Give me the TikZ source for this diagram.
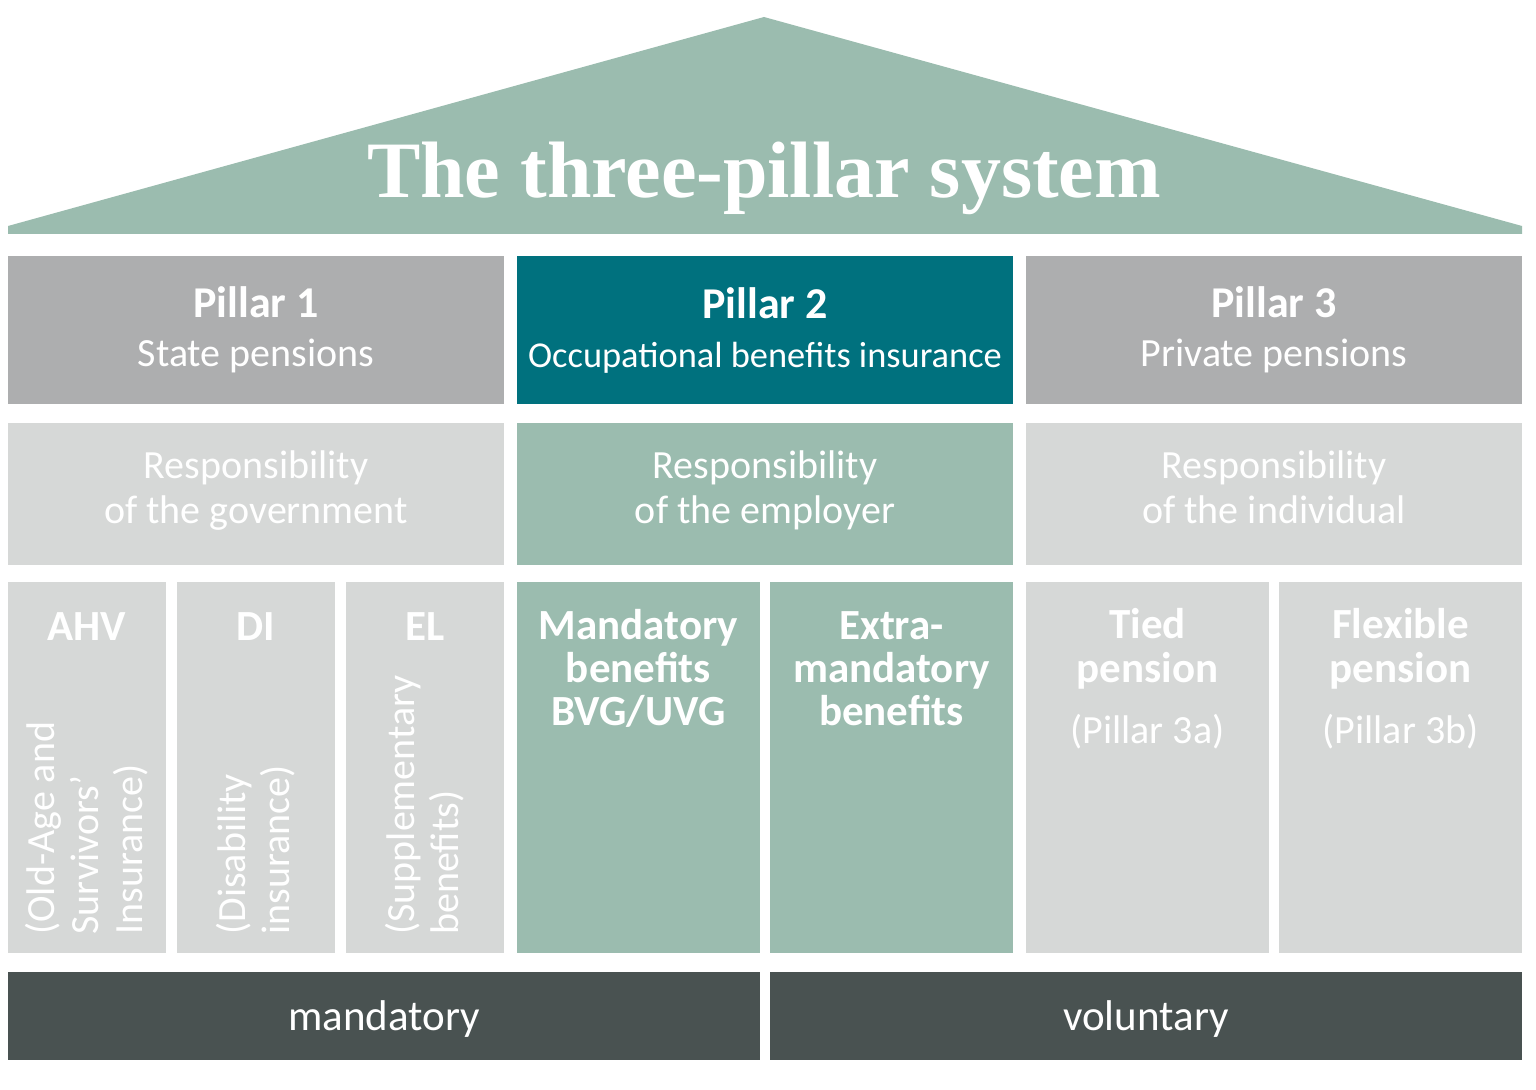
\documentclass[tikz,border=0pt]{standalone}
\usepackage{fontspec}
\setmainfont{Carlito}
\newfontfamily\roofserif{Liberation Serif}
\usetikzlibrary{positioning}

\definecolor{roofgreen}{HTML}{9BBCAF}
\definecolor{headgray}{HTML}{ADAEAF}
\definecolor{pillarteal}{HTML}{00717E}
\definecolor{palegray}{HTML}{D6D8D7}
\definecolor{basedark}{HTML}{495251}

\tikzstyle{header} = [rectangle, fill=headgray, text=white, minimum width=248pt, minimum height=74pt, inner sep=0pt, outer sep=0pt, align=center, font=\fontsize{20}{24.5}\selectfont]
\tikzstyle{duty} = [rectangle, fill=palegray, text=white, minimum width=248pt, minimum height=71pt, inner sep=0pt, outer sep=0pt, align=center, font=\fontsize{20}{22.5}\selectfont, execute at begin node=\strut, execute at end node=\strut]
\tikzstyle{narrow} = [rectangle, fill=palegray, minimum width=79pt, minimum height=185.5pt, inner sep=0pt, outer sep=0pt]
\tikzstyle{wide} = [rectangle, fill=palegray, minimum width=121.5pt, minimum height=185.5pt, inner sep=0pt, outer sep=0pt]
\tikzstyle{base} = [rectangle, fill=basedark, text=white, minimum width=376pt, minimum height=44pt, inner sep=0pt, outer sep=0pt, text depth=0pt, font=\fontsize{21.5}{24}\selectfont]
\tikzstyle{colhead} = [text=white, align=center, inner sep=0pt, anchor=base, font=\bfseries\fontsize{21.5}{21.5}\selectfont]
\tikzstyle{note} = [text=white, inner sep=0pt, anchor=base, font=\fontsize{20}{22}\selectfont]
\tikzstyle{sideways} = [text=white, align=left, inner sep=0pt, rotate=90, anchor=west, font=\fontsize{20}{22}\selectfont]

\begin{document}
\begin{tikzpicture}[x=0.5pt, y=-0.5pt]
  \useasboundingbox (0,0) rectangle (1536,1090);

  % Roof
  \fill[roofgreen] (8,234) -- (8,226) -- (764,17) -- (1522,226) -- (1522,234) -- cycle;
  \node (title) [text=white, anchor=base, inner sep=0pt, font=\roofserif\bfseries\fontsize{40}{40}\selectfont] at (764,198) {The three-pillar system};

  % Pillar headers
  \node (p1) [header] at (256,330) {\textbf{\fontsize{22}{24.5}\selectfont Pillar 1}\\State pensions};
  \node (p2) [header, fill=pillarteal, right=6.5pt of p1] {\textbf{\fontsize{22}{24.5}\selectfont Pillar 2}\\{\fontsize{18.2}{24.5}\selectfont Occupational benefits insurance}};
  \node (p3) [header, right=6.5pt of p2] {\textbf{\fontsize{22}{24.5}\selectfont Pillar 3}\\Private pensions};

  % Responsibility
  \node (r1) [duty, below=9.5pt of p1] {Responsibility\\of the government};
  \node (r2) [duty, fill=roofgreen, below=9.5pt of p2] {Responsibility\\of the employer};
  \node (r3) [duty, below=9.5pt of p3] {Responsibility\\of the individual};

  % Columns
  \node (ahv) [narrow, below right=8.5pt and 0pt of r1.south west] {};
  \node (di) [narrow, right=5.5pt of ahv] {};
  \node (el) [narrow, right=5.5pt of di] {};
  \node (oblig) [wide, fill=roofgreen, below right=8.5pt and 0pt of r2.south west] {};
  \node (extra) [wide, fill=roofgreen, right=5pt of oblig] {};
  \node (tied) [wide, below right=8.5pt and 0pt of r3.south west] {};
  \node (flex) [wide, right=5pt of tied] {};

  % Column texts (base = last line)
  \node (ahv_t) [colhead] at ([yshift=-29pt]ahv.north) {AHV};
  \node (di_t) [colhead] at ([yshift=-29pt]di.north) {DI};
  \node (el_t) [colhead] at ([yshift=-29pt]el.north) {EL};
  \node (ahv_s) [sideways] at ([yshift=9pt]ahv.south) {(Old-Age and\\Survivors'\\Insurance)};
  \node (di_s) [sideways] at ([yshift=9pt]di.south) {(Disability\\insurance)};
  \node (el_s) [sideways] at ([yshift=9pt]el.south) {(Supplementary\\benefits)};
  \node (oblig_t) [colhead] at ([yshift=-71.5pt]oblig.north) {Mandatory\\benefits\\BVG/UVG};
  \node (extra_t) [colhead] at ([yshift=-71.5pt]extra.north) {Extra-\\mandatory\\benefits};
  \node (tied_t) [colhead] at ([yshift=-50pt]tied.north) {Tied\\pension};
  \node (flex_t) [colhead] at ([yshift=-50pt]flex.north) {Flexible\\pension};
  \node (tied_n) [note] at ([yshift=-80.5pt]tied.north) {(Pillar 3a)};
  \node (flex_n) [note] at ([yshift=-80.5pt]flex.north) {(Pillar 3b)};

  % Foundation
  \node (mand) [base, below right=9.5pt and 0pt of ahv.south west] {mandatory};
  \node (vol) [base, right=5pt of mand] {voluntary};

\end{tikzpicture}
\end{document}
